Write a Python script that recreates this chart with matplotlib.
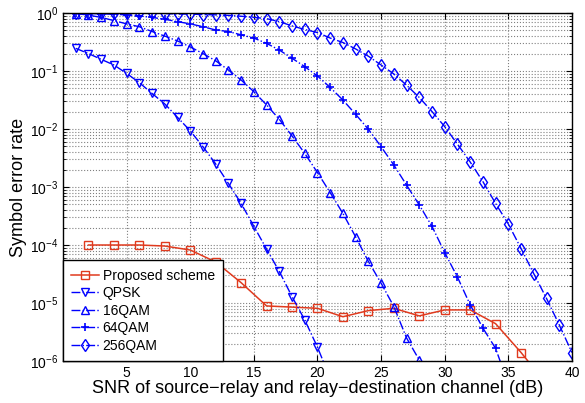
import numpy as np
import matplotlib
matplotlib.use("Agg")
import matplotlib.pyplot as plt
from matplotlib.ticker import LogLocator, NullFormatter

plt.rcParams["font.family"] = ["Liberation Sans", "DejaVu Sans"]

# SNR axis (dB)
snr = list(range(1, 41))
snr_prop = list(range(2, 40, 2))

ser_prop = [1.0e-4, 1.0e-4, 1.0e-4, 9.6e-5, 8.2e-5, 5.1e-5, 2.24e-5, 8.9e-6, 8.5e-6,
            8.1e-6, 5.8e-6, 7.4e-6, 8.1e-6, 6.0e-6, 7.6e-6, 7.6e-6, 4.4e-6, 1.4e-6, 4e-7]

ser_qpsk = [0.246, 0.20, 0.159, 0.127, 0.091, 0.063, 0.041, 0.027, 0.0159, 0.0093,
            0.00495, 0.0025, 0.00115, 5.2e-4, 2.1e-4, 8.5e-5, 3.5e-5, 1.29e-5, 5.1e-6, 1.73e-6,
            5e-7, 1.2e-7, 2e-8, 3e-9, 4e-10, 5e-11, 5e-12, 5e-13, 4e-14, 3e-15,
            2e-16, 1e-17, 5e-19, 2e-20, 8e-22, 3e-23, 1e-24, 3e-26, 1e-27, 3e-29]

ser_16qam = [0.98, 0.92, 0.84, 0.74, 0.65, 0.58, 0.48, 0.40, 0.33, 0.26,
             0.20, 0.15, 0.104, 0.070, 0.044, 0.026, 0.0147, 0.0076, 0.0038, 0.00177,
             8e-4, 3.5e-4, 1.38e-4, 5.2e-5, 2.2e-5, 8.7e-6, 2.5e-6, 1.04e-6, 2.5e-7, 5e-8,
             9e-9, 1.5e-9, 2e-10, 2.5e-11, 3e-12, 3e-13, 3e-14, 2e-15, 1e-16, 5e-18]

ser_64qam = [0.99, 0.98, 0.97, 0.95, 0.93, 0.89, 0.84, 0.78, 0.71, 0.65,
             0.58, 0.51, 0.48, 0.42, 0.37, 0.30, 0.23, 0.166, 0.119, 0.082,
             0.052, 0.0316, 0.0179, 0.0099, 0.00495, 0.0024, 0.00108, 4.9e-4, 2.1e-4, 7.4e-5,
             2.8e-5, 9.3e-6, 3.7e-6, 1.65e-6, 4e-7, 9e-8, 1.8e-8, 3e-9, 4e-10, 5e-11]

ser_256qam = [1.0, 1.0, 1.0, 1.0, 1.0, 1.0, 0.99, 0.98, 0.96, 0.96,
              0.94, 0.93, 0.91, 0.88, 0.84, 0.80, 0.71, 0.60, 0.52, 0.46,
              0.37, 0.31, 0.24, 0.18, 0.127, 0.089, 0.057, 0.035, 0.020, 0.011,
              0.0055, 0.0027, 0.00124, 5.2e-4, 2.3e-4, 8.7e-5, 3.2e-5, 1.2e-5, 4.2e-6, 1.4e-6]

red = "#e03a1e"
blue = "#0000ff"

fig = plt.figure(figsize=(5.85, 4.03), dpi=100)
ax = fig.add_axes([0.1077, 0.1042, 0.8700, 0.8635])

ax.semilogy(snr_prop, ser_prop, "-s", color=red, mfc="none", ms=6, lw=1.1,
            label="Proposed scheme")
ax.semilogy(snr, ser_qpsk, "-.v", color=blue, mfc="none", ms=6, lw=1.0, label="QPSK")
ax.semilogy(snr, ser_16qam, "-.^", color=blue, mfc="none", ms=6, lw=1.0, label="16QAM")
ax.semilogy(snr, ser_64qam, "-.+", color=blue, mfc="none", ms=6, mew=1.2, lw=1.0,
            label="64QAM")
ax.semilogy(snr, ser_256qam, "-.d", color=blue, mfc="none", ms=6, lw=1.0, label="256QAM")

ax.set_xlim(0, 40)
ax.set_ylim(1e-6, 1)
ax.set_xticks(range(5, 41, 5))
ax.yaxis.set_major_locator(LogLocator(base=10, numticks=10))
ax.yaxis.set_minor_locator(LogLocator(base=10, subs=np.arange(2, 10), numticks=10))
ax.yaxis.set_minor_formatter(NullFormatter())

ax.grid(True, which="major", axis="both", linestyle=":", color="#808080", lw=0.8)
ax.grid(True, which="minor", axis="y", linestyle=":", color="#808080", lw=0.8)
ax.tick_params(which="both", direction="in", top=True, right=True, labelsize=10)
ax.tick_params(which="major", length=4)
ax.tick_params(which="minor", length=2)
for s in ax.spines.values():
    s.set_linewidth(1.0)

ax.set_xlabel("SNR of source\u2212relay and relay\u2212destination channel (dB)", fontsize=13,
              labelpad=0)
ax.set_ylabel("Symbol error rate", fontsize=13, labelpad=2)

leg = ax.legend(loc="lower left", fontsize=10, fancybox=False, framealpha=1,
                edgecolor="black", borderaxespad=0, handlelength=2.0,
                borderpad=0.6, labelspacing=0.25, handletextpad=0.25)
leg.get_frame().set_linewidth(1.0)

fig.savefig("out.png", dpi=100)
